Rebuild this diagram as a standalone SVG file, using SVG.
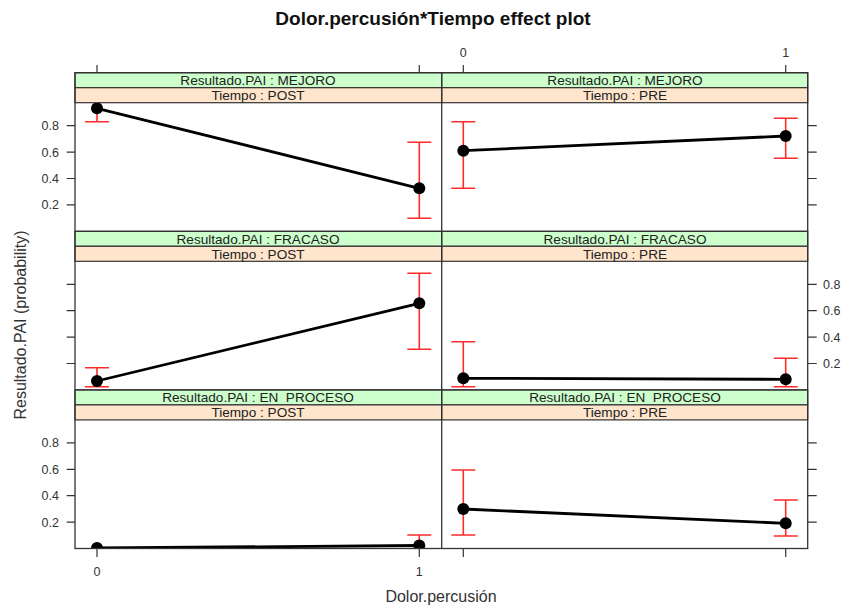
<svg xmlns="http://www.w3.org/2000/svg" width="843" height="607" viewBox="0 0 843 607">
<style>
text{font-family:"Liberation Sans",Arial,sans-serif}
.title{font-size:19px;font-weight:bold;fill:#111}
.ax{font-size:12.5px;fill:#333}
.lab{font-size:16px;fill:#333}
.st{font-size:13.6px;fill:#222;text-anchor:middle}
.g{fill:#ccffcc;stroke:#333;stroke-width:1.2}
.p{fill:#ffe5cc;stroke:#333;stroke-width:1.2}
.fr{fill:none;stroke:#333;stroke-width:1.3}
.tk{stroke:#333;stroke-width:1.2}
.ln{fill:none;stroke:#000;stroke-width:2.8}
.eb{fill:none;stroke:#ff2a2a;stroke-width:1.6}
.pt{fill:#000}
</style>
<defs>
<clipPath id="c11"><rect x="75" y="102.7" width="366.7" height="128.6"/></clipPath>
<clipPath id="c12"><rect x="441.7" y="102.7" width="366" height="128.6"/></clipPath>
<clipPath id="c21"><rect x="75" y="261.3" width="366.7" height="128.6"/></clipPath>
<clipPath id="c22"><rect x="441.7" y="261.3" width="366" height="128.6"/></clipPath>
<clipPath id="c31"><rect x="75" y="419.9" width="366.7" height="128.6"/></clipPath>
<clipPath id="c32"><rect x="441.7" y="419.9" width="366" height="128.6"/></clipPath>
</defs>
<rect width="843" height="607" fill="#fff"/>
<text class="title" x="433" y="25" text-anchor="middle">Dolor.percusión*Tiempo effect plot</text>

<g id="strips">
<rect class="g" x="75" y="72.7" width="366.7" height="15"/><rect class="p" x="75" y="87.7" width="366.7" height="15"/>
<rect class="g" x="441.7" y="72.7" width="366" height="15"/><rect class="p" x="441.7" y="87.7" width="366" height="15"/>
<rect class="g" x="75" y="231.3" width="366.7" height="15"/><rect class="p" x="75" y="246.3" width="366.7" height="15"/>
<rect class="g" x="441.7" y="231.3" width="366" height="15"/><rect class="p" x="441.7" y="246.3" width="366" height="15"/>
<rect class="g" x="75" y="389.9" width="366.7" height="15"/><rect class="p" x="75" y="404.9" width="366.7" height="15"/>
<rect class="g" x="441.7" y="389.9" width="366" height="15"/><rect class="p" x="441.7" y="404.9" width="366" height="15"/>
<text class="st" x="258" y="85">Resultado.PAI : MEJORO</text><text class="st" x="258" y="100">Tiempo : POST</text>
<text class="st" x="625" y="85">Resultado.PAI : MEJORO</text><text class="st" x="625" y="100">Tiempo : PRE</text>
<text class="st" x="258" y="243.6">Resultado.PAI : FRACASO</text><text class="st" x="258" y="258.6">Tiempo : POST</text>
<text class="st" x="625" y="243.6">Resultado.PAI : FRACASO</text><text class="st" x="625" y="258.6">Tiempo : PRE</text>
<text class="st" x="258" y="402.2" xml:space="preserve">Resultado.PAI : EN  PROCESO</text><text class="st" x="258" y="417.2">Tiempo : POST</text>
<text class="st" x="625" y="402.2" xml:space="preserve">Resultado.PAI : EN  PROCESO</text><text class="st" x="625" y="417.2">Tiempo : PRE</text>
</g>

<g id="axes">
<path class="tk" d="M66.7 125.7H75M66.7 152.1H75M66.7 178.5H75M66.7 204.9H75
M66.7 284.3H75M66.7 310.7H75M66.7 337.1H75M66.7 363.5H75
M66.7 442.9H75M66.7 469.3H75M66.7 495.7H75M66.7 522.1H75
M807.7 125.7H816.7M807.7 152.1H816.7M807.7 178.5H816.7M807.7 204.9H816.7
M807.7 284.3H816.7M807.7 310.7H816.7M807.7 337.1H816.7M807.7 363.5H816.7
M807.7 442.9H816.7M807.7 469.3H816.7M807.7 495.7H816.7M807.7 522.1H816.7
M97 65V72.7M419.3 65V72.7M463.3 65V72.7M785.7 65V72.7
M97 548.5V557M419.3 548.5V557M463.3 548.5V557M785.7 548.5V557"/>
<g class="ax" text-anchor="end">
<text x="59" y="130.2">0.8</text><text x="59" y="156.6">0.6</text><text x="59" y="183">0.4</text><text x="59" y="209.4">0.2</text>
<text x="59" y="447.4">0.8</text><text x="59" y="473.8">0.6</text><text x="59" y="500.2">0.4</text><text x="59" y="526.6">0.2</text>
</g>
<g class="ax">
<text x="823" y="288.8">0.8</text><text x="823" y="315.2">0.6</text><text x="823" y="341.6">0.4</text><text x="823" y="368">0.2</text>
</g>
<g class="ax" text-anchor="middle">
<text x="463.3" y="57">0</text><text x="785.7" y="57">1</text>
<text x="97" y="576">0</text><text x="419.3" y="576">1</text>
</g>
<text class="lab" x="441" y="602" text-anchor="middle">Dolor.percusión</text>
<text class="lab" transform="translate(26 325) rotate(-90)" text-anchor="middle">Resultado.PAI (probability)</text>
</g>

<g id="connectors">
<g clip-path="url(#c11)">
<path class="eb" d="M97 121.7V90M85 121.7H109M419.3 142.3V218.3M407.3 142.3H431.3M407.3 218.3H431.3"/>
<path class="ln" d="M97 108.3L419.3 188.3"/>
<circle class="pt" cx="97" cy="108.3" r="6"/><circle class="pt" cx="419.3" cy="188.3" r="6"/>
</g>
<g clip-path="url(#c12)">
<path class="eb" d="M463.3 121.7V188.3M451.3 121.7H475.3M451.3 188.3H475.3M785.7 118.3V158.3M773.7 118.3H797.7M773.7 158.3H797.7"/>
<path class="ln" d="M463.3 150.7L785.7 136"/>
<circle class="pt" cx="463.3" cy="150.7" r="6"/><circle class="pt" cx="785.7" cy="136" r="6"/>
</g>
<g clip-path="url(#c21)">
<path class="eb" d="M97 367.7V386.7M85 367.7H109M85 386.7H109M419.3 273.3V349.3M407.3 273.3H431.3M407.3 349.3H431.3"/>
<path class="ln" d="M97 381L419.3 303.3"/>
<circle class="pt" cx="97" cy="381" r="6"/><circle class="pt" cx="419.3" cy="303.3" r="6"/>
</g>
<g clip-path="url(#c22)">
<path class="eb" d="M463.3 341.7V386.7M451.3 341.7H475.3M451.3 386.7H475.3M785.7 358.3V386.7M773.7 358.3H797.7M773.7 386.7H797.7"/>
<path class="ln" d="M463.3 378.3L785.7 379.3"/>
<circle class="pt" cx="463.3" cy="378.3" r="6"/><circle class="pt" cx="785.7" cy="379.3" r="6"/>
</g>
<g clip-path="url(#c31)">
<path class="eb" d="M419.3 535V560M407.3 535H431.3"/>
<path class="ln" d="M97 548L419.3 545.5"/>
<circle class="pt" cx="97" cy="548" r="6"/><circle class="pt" cx="419.3" cy="545.5" r="6"/>
</g>
<g clip-path="url(#c32)">
<path class="eb" d="M463.3 470V535M451.3 470H475.3M451.3 535H475.3M785.7 500V536M773.7 500H797.7M773.7 536H797.7"/>
<path class="ln" d="M463.3 509L785.7 523.3"/>
<circle class="pt" cx="463.3" cy="509" r="6"/><circle class="pt" cx="785.7" cy="523.3" r="6"/>
</g>
</g>

<g id="frame">
<rect class="fr" x="75" y="72.7" width="732.7" height="475.8"/>
<path class="fr" d="M441.7 72.7V548.5M75 231.3H807.7M75 389.9H807.7"/>
</g>
</svg>
